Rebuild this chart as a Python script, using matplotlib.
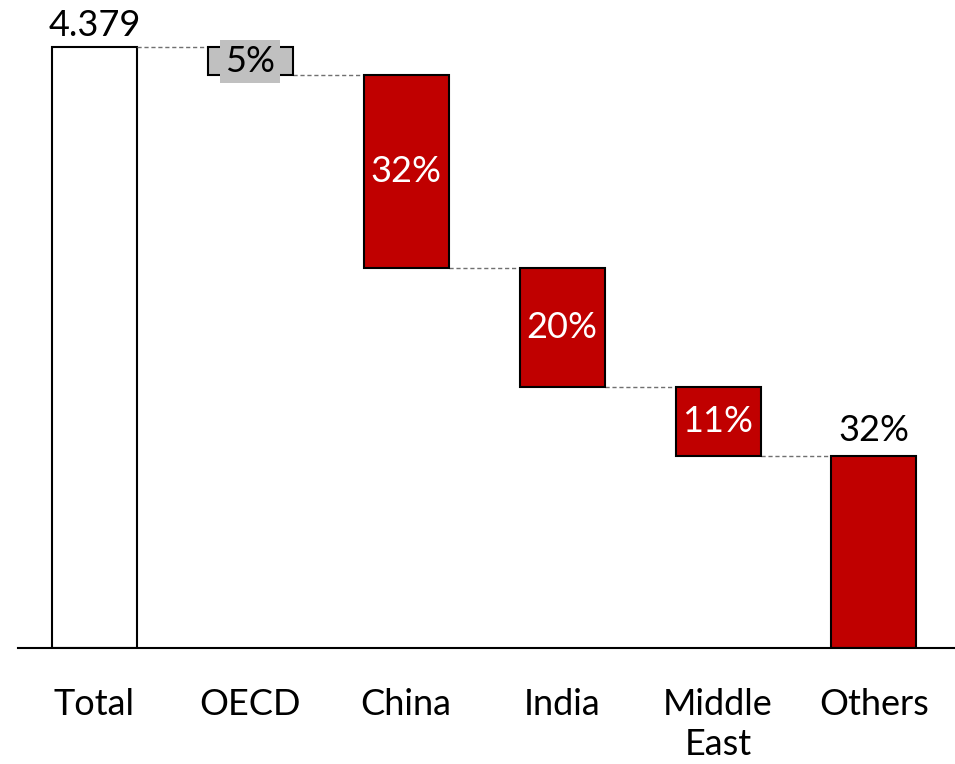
import numpy as np
import matplotlib.pyplot as plt

plt.rcParams['font.family'] = ['Lato', 'DejaVu Sans']

# data
categories = ['Total', 'OECD', 'China', 'India', 'Middle\nEast', 'Others']
total = 4.379
total_label = '4.379'
shares = [4.7, 32.1, 19.8, 11.4, 32.0]   # percent of total
share_labels = ['5%', '32%', '20%', '11%', '32%']

red = '#C00000'
gray = '#C0C0C0'
w = 0.545
fs = 26

fig = plt.figure(figsize=(9.55, 7.64), dpi=100)
ax = fig.add_axes([18 / 955, 116 / 764, 937 / 955, 648 / 764])

x = np.arange(len(categories))

# total bar
ax.bar(x[0], total, width=w, color='white', edgecolor='black', linewidth=1.5)
ax.text(x[0], total + 0.04, total_label, ha='center', va='bottom', fontsize=fs)

# falling bars
seg = [total * s / 100 for s in shares]
top = total
for i, v in enumerate(seg):
    xi = x[i + 1]
    bottom = top - v
    last = i == len(seg) - 1
    if last:
        bottom = 0
        v = top
    fc = gray if i == 0 else red
    ax.bar(xi, v, bottom=bottom, width=w, color=fc, edgecolor='black', linewidth=1.5, zorder=2)
    if i == 0:
        ax.text(xi, bottom + v / 2, share_labels[i], ha='center', va='center', fontsize=fs,
                color='black', zorder=3,
                bbox=dict(facecolor=gray, edgecolor='none', boxstyle='square,pad=0.14'))
    elif last:
        ax.text(xi, top + 0.06, share_labels[i], ha='center', va='bottom', fontsize=fs)
    else:
        ax.text(xi, bottom + v / 2, share_labels[i], ha='center', va='center', fontsize=fs,
                color='white', zorder=3)
    # connector from previous bar
    ax.plot([x[i] + w / 2, xi - w / 2], [top, top], ls=(0, (3, 2)), color='#707070', lw=1, zorder=1)
    top = bottom

ax.set_xlim(-0.49, 5.52)
ax.set_ylim(0, total * 648 / 601)
for s in ['top', 'right', 'left']:
    ax.spines[s].set_visible(False)
ax.spines['bottom'].set_linewidth(1.5)
ax.set_yticks([])
ax.set_xticks(x)
ax.set_xticklabels(categories, fontsize=fs, linespacing=1.25, va='top')
ax.tick_params(axis='x', length=0, pad=29)

fig.savefig('out.png', dpi=100)
